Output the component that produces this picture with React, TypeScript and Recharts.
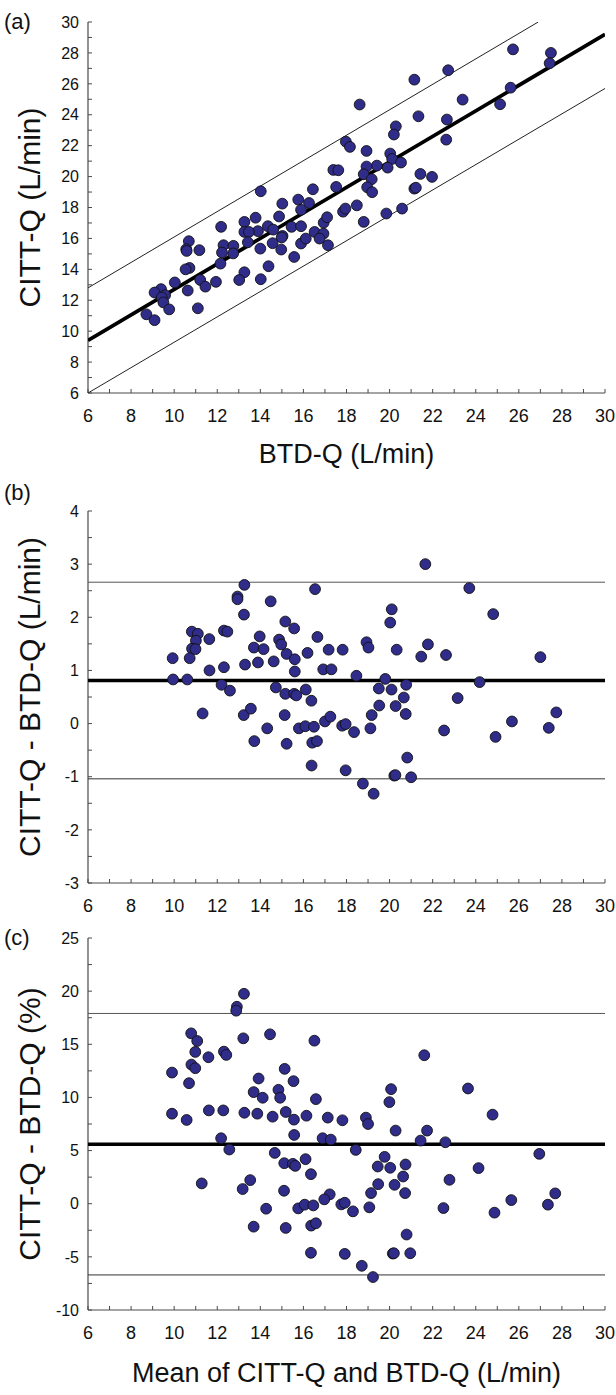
import { ScatterChart, Scatter, XAxis, YAxis } from "recharts";

const FONT = '"Liberation Sans", Arial, Helvetica, sans-serif';
const AXIS = "#4a4a4a";
const DOT_FILL = "#302c8a";

// shared x axis, L/min
const X_TICKS = [6, 7, 8, 9, 10, 11, 12, 13, 14, 15, 16, 17, 18, 19, 20, 21, 22, 23, 24, 25, 26, 27, 28, 29, 30];
const X_LABELS = [6, 8, 10, 12, 14, 16, 18, 20, 22, 24, 26, 28, 30];
const TOP_TICKS = [7, 9, 11, 13, 15, 17, 19, 21, 23, 25, 27, 29];

// (a) CITT-Q vs BTD-Q
const A_Y_TICKS = [6, 7, 8, 9, 10, 11, 12, 13, 14, 15, 16, 17, 18, 19, 20, 21, 22, 23, 24, 25, 26, 27, 28, 29, 30];
const A_Y_LABELS = [6, 8, 10, 12, 14, 16, 18, 20, 22, 24, 26, 28, 30];
const A_BTD = [
  25.73, 27.49, 27.43, 22.72, 21.15, 25.62, 23.39, 25.13, 18.61, 21.34, 22.66, 20.29, 20.2, 17.97, 18.16, 18.93, 22.63,
  20.03, 20.12, 20.53, 19.41, 18.93, 19.91, 17.39, 17.62, 18.8, 21.43, 21.97, 19.17, 17.52, 18.96, 16.44, 19.19, 21.15,
  21.22, 14.02, 15.76, 15.02, 16.26, 13.78, 15.89, 14.87, 14.35, 14.6, 13.89, 13.26, 13.26, 13.47, 12.18, 15.45, 15.89,
  16.52, 16.93, 16.94, 17.1, 17.84, 17.95, 18.48, 18.8, 19.85, 20.58, 10.68, 10.56, 10.58, 11.17, 12.29, 12.22, 12.75,
  12.74, 13.42, 14.0, 14.57, 14.97, 15.03, 14.99, 15.89, 16.11, 16.75, 17.14, 15.57, 14.38, 13.26, 13.02, 12.15, 11.94,
  10.71, 10.53, 11.21, 11.45, 10.63, 10.03, 9.39, 9.09, 9.58, 9.42, 9.5, 9.77, 11.1, 8.71, 9.09, 14.02,
];
const A_CITT = [
  28.23, 28.0, 27.33, 26.88, 26.27, 25.75, 24.98, 24.68, 24.66, 23.9, 23.69, 23.25, 22.72, 22.26, 21.92, 21.66, 22.39,
  21.49, 21.14, 20.91, 20.71, 20.65, 20.58, 20.43, 20.41, 20.15, 20.17, 19.98, 19.83, 19.33, 19.31, 19.18, 18.99, 19.22,
  19.28, 19.05, 18.51, 18.25, 18.29, 17.34, 17.85, 17.42, 16.79, 16.57, 16.47, 17.07, 16.42, 16.42, 16.75, 16.75, 16.79,
  16.42, 16.31, 17.02, 17.37, 17.73, 17.93, 18.14, 17.07, 17.61, 17.93, 15.82, 15.3, 15.19, 15.24, 15.56, 15.09, 15.52,
  15.03, 15.75, 15.34, 15.69, 15.28, 16.16, 16.06, 15.67, 15.99, 15.99, 15.56, 14.8, 14.2, 13.81, 13.31, 14.37, 13.19,
  14.09, 14.0, 13.31, 12.88, 12.63, 13.15, 12.72, 12.5, 12.33, 12.18, 11.86, 11.41, 11.48, 11.09, 10.71, 13.36,
];
// regression line and its prediction band (x, y end points)
const A_FIT_X = [6, 30];
const A_FIT_Y = [9.4, 29.2];
const A_UPPER_X = [6, 26.9];
const A_UPPER_Y = [12.8, 30];
const A_LOWER_X = [6, 30];
const A_LOWER_Y = [6.0, 25.7];

// (b) difference in L/min
const B_Y_TICKS = [-3, -2.5, -2, -1.5, -1, -0.5, 0, 0.5, 1, 1.5, 2, 2.5, 3, 3.5, 4];
const B_Y_LABELS = [-3, -2, -1, 0, 1, 2, 3, 4];
const B_MEAN = [
  21.66, 13.26, 16.54, 23.7, 12.94, 12.94, 14.48, 20.1, 13.24, 24.81, 20.03, 15.16, 15.57, 12.31, 12.47, 10.82, 11.1,
  11.01, 11.63, 13.97, 14.87, 14.97, 16.65, 18.93, 19.02, 21.78, 10.83, 10.99, 13.7, 14.15, 15.22, 16.19, 17.17, 17.82,
  20.33, 21.47, 22.62, 27.0, 9.93, 10.72, 15.6, 14.62, 13.89, 13.29, 12.31, 11.64, 15.6, 16.92, 17.3, 18.46, 19.8, 24.18,
  9.95, 10.61, 12.2, 12.59, 14.72, 16.11, 19.5, 20.09, 20.77, 15.16, 15.57, 15.67, 16.37, 20.66, 23.16, 19.52, 20.28,
  11.32, 13.23, 13.56, 15.13, 19.17, 20.75, 27.74, 17.0, 17.25, 25.68, 14.32, 15.79, 16.09, 16.49, 17.8, 17.96, 18.35,
  19.11, 22.53, 27.39, 13.72, 15.22, 16.41, 16.63, 24.92, 16.38, 17.96, 20.82, 20.22, 20.27, 21.0, 18.76, 19.26,
];
const B_DIFF = [
  3.0, 2.61, 2.53, 2.55, 2.39, 2.34, 2.3, 2.15, 2.05, 2.06, 1.9, 1.92, 1.79, 1.75, 1.73, 1.73, 1.69, 1.56, 1.59, 1.64,
  1.58, 1.49, 1.63, 1.53, 1.43, 1.49, 1.41, 1.4, 1.43, 1.4, 1.31, 1.33, 1.39, 1.39, 1.39, 1.26, 1.29, 1.25, 1.23, 1.23,
  1.21, 1.17, 1.15, 1.11, 1.06, 1.0, 0.98, 1.02, 1.02, 0.9, 0.84, 0.78, 0.83, 0.83, 0.73, 0.62, 0.68, 0.64, 0.66, 0.64,
  0.73, 0.56, 0.56, 0.53, 0.43, 0.49, 0.48, 0.34, 0.33, 0.19, 0.16, 0.28, 0.16, 0.16, 0.18, 0.21, 0.04, 0.13, 0.04,
  -0.09, -0.09, -0.05, -0.06, -0.04, -0.01, -0.16, -0.09, -0.13, -0.08, -0.33, -0.38, -0.36, -0.33, -0.25, -0.79, -0.88,
  -0.64, -0.98, -0.97, -1.01, -1.13, -1.32,
];
const B_BIAS = 0.81;
const B_LIMITS = [2.66, -1.04];

// (c) difference in %
const C_Y_TICKS = [-10, -7.5, -5, -2.5, 0, 2.5, 5, 7.5, 10, 12.5, 15, 17.5, 20, 22.5, 25];
const C_Y_LABELS = [-10, -5, 0, 5, 10, 15, 20, 25];
const C_MEAN = [
  13.24, 12.91, 12.88, 10.79, 14.45, 11.07, 13.21, 16.51, 10.98, 12.31, 12.42, 11.59, 21.61, 9.9, 10.8, 10.98, 15.13,
  10.69, 13.92, 15.54, 13.69, 14.84, 20.07, 23.64, 14.11, 14.92, 16.58, 19.99, 9.9, 10.58, 11.61, 12.28, 13.26, 13.86,
  14.57, 15.18, 15.56, 16.14, 17.13, 17.81, 18.9, 19.0, 24.78, 15.57, 16.89, 17.27, 12.18, 20.28, 21.74, 21.44, 22.59,
  12.56, 18.43, 14.67, 26.95, 16.1, 19.77, 15.11, 15.51, 15.62, 19.45, 20.03, 20.74, 24.13, 16.35, 20.63, 11.28, 13.53,
  13.18, 22.78, 19.47, 20.23, 15.1, 17.22, 16.97, 19.14, 20.72, 27.69, 14.27, 15.76, 16.06, 16.46, 17.76, 17.92, 18.3,
  19.06, 22.5, 25.65, 27.35, 24.87, 13.69, 15.18, 16.36, 16.58, 20.79, 16.35, 17.92, 20.15, 20.2, 20.96, 18.71, 19.23,
];
const C_PCT = [
  19.75, 18.53, 18.16, 16.03, 15.94, 15.31, 15.56, 15.34, 14.28, 14.31, 14.0, 13.78, 13.97, 12.34, 13.09, 12.75, 12.69,
  11.34, 11.78, 11.53, 10.5, 10.72, 10.78, 10.84, 9.97, 9.97, 9.84, 9.56, 8.47, 7.88, 8.78, 8.78, 8.56, 8.47, 8.19, 8.63,
  7.91, 8.28, 8.1, 7.85, 8.1, 7.5, 8.38, 6.47, 6.16, 6.03, 6.16, 6.88, 6.88, 5.94, 5.78, 5.1, 5.06, 4.78, 4.69, 4.19,
  4.41, 3.81, 3.75, 3.56, 3.5, 3.38, 3.69, 3.35, 2.78, 2.56, 1.91, 2.22, 1.38, 2.25, 1.84, 1.78, 1.22, 0.88, 0.41, 1.0,
  1.0, 0.97, -0.47, -0.44, -0.09, -0.16, -0.06, 0.09, -0.72, -0.34, -0.41, 0.34, -0.09, -0.84, -2.16, -2.28, -2.06,
  -1.84, -2.9, -4.62, -4.72, -4.69, -4.66, -4.66, -5.84, -6.9,
];
const C_BIAS = 5.6;
const C_LIMITS = [17.9, -6.7];

const toPoints = (xs: number[], ys: number[]) => xs.map((x, i) => ({ x, y: ys[i] }));
const hLine = (y: number) => [{ x: 6, y }, { x: 30, y }];

const Dot = (p: any) => <circle cx={p.cx} cy={p.cy} r={5.4} fill={DOT_FILL} stroke="#111" strokeWidth={0.9} />;
const NoDot = () => <g />;
const BlankTick = () => null;

function XTick({ x, y, payload, labels }: any) {
  if (!labels.includes(payload.value)) return null;
  return (
    <text x={x} y={y} dy="0.71em" textAnchor="middle" fontSize={18} fill="#111" fontFamily={FONT}>
      {payload.value}
    </text>
  );
}

function YTick({ x, y, payload, labels }: any) {
  if (!labels.includes(payload.value)) return null;
  return (
    <text x={x} y={y} dy="0.355em" textAnchor="end" fontSize={16} fill="#111" fontFamily={FONT}>
      {payload.value}
    </text>
  );
}

function XTitle({ viewBox, text, base }: any) {
  return (
    <text x={viewBox.x + viewBox.width / 2} y={viewBox.y + base} textAnchor="middle" fontSize={27} fill="#111" fontFamily={FONT}>
      {text}
    </text>
  );
}

function YTitle({ viewBox, text, tag, tagY }: any) {
  const cy = viewBox.y + viewBox.height / 2;
  const bx = 40;
  return (
    <g>
      <text x={bx} y={cy} transform={`rotate(-90 ${bx} ${cy})`} textAnchor="middle" fontSize={30} fill="#111" fontFamily={FONT}>
        {text}
      </text>
      <text x={4} y={tagY} fontSize={22} fill="#111" fontFamily={FONT}>
        {tag}
      </text>
    </g>
  );
}

function Panel({ top, height, marginTop, axisHeight, yDomain, yTicks, yLabels, title, tag, tagY, xTitle, xTitleBase, children }: any) {
  return (
    <div style={{ position: "absolute", left: 0, top }}>
      <ScatterChart width={616} height={height} margin={{ top: marginTop, right: 11, bottom: 0, left: 0 }}>
        <XAxis
          type="number"
          dataKey="x"
          domain={[6, 30]}
          allowDataOverflow
          ticks={X_TICKS}
          interval={0}
          tickSize={-4}
          tickMargin={20}
          height={axisHeight}
          axisLine={{ stroke: AXIS, strokeWidth: 1.2 }}
          tickLine={{ stroke: AXIS }}
          tick={<XTick labels={X_LABELS} />}
          label={xTitle ? <XTitle text={xTitle} base={xTitleBase} /> : undefined}
        />
        <XAxis
          xAxisId="top"
          orientation="top"
          type="number"
          domain={[6, 30]}
          ticks={TOP_TICKS}
          interval={0}
          tickSize={-4}
          height={0}
          axisLine={{ stroke: AXIS, strokeWidth: 1.2 }}
          tickLine={{ stroke: AXIS }}
          tick={<BlankTick />}
        />
        <YAxis
          type="number"
          dataKey="y"
          domain={yDomain}
          allowDataOverflow
          ticks={yTicks}
          interval={0}
          tickSize={-4}
          tickMargin={13}
          width={88}
          axisLine={{ stroke: AXIS, strokeWidth: 1.2 }}
          tickLine={{ stroke: AXIS }}
          tick={<YTick labels={yLabels} />}
          label={<YTitle text={title} tag={tag} tagY={tagY} />}
        />
        <YAxis
          yAxisId="right"
          orientation="right"
          type="number"
          domain={[0, 1]}
          width={0}
          tick={false}
          tickLine={false}
          axisLine={{ stroke: AXIS, strokeWidth: 1.2 }}
        />
        {children}
      </ScatterChart>
    </div>
  );
}

export default function App() {
  const aPoints = toPoints(A_BTD, A_CITT);
  const bPoints = toPoints(B_MEAN, B_DIFF);
  const cPoints = toPoints(C_MEAN, C_PCT);

  return (
    <div style={{ position: "absolute", left: 0, top: 0, width: 616, height: 1395, background: "#fff" }}>
      <Panel
        top={0}
        height={470}
        marginTop={22}
        axisHeight={77}
        yDomain={[6, 30]}
        yTicks={A_Y_TICKS}
        yLabels={A_Y_LABELS}
        title="CITT-Q (L/min)"
        tag="(a)"
        tagY={29}
        xTitle="BTD-Q (L/min)"
        xTitleBase={70}
      >
        <Scatter data={toPoints(A_UPPER_X, A_UPPER_Y)} line={{ stroke: "#222", strokeWidth: 1 }} shape={NoDot} isAnimationActive={false} />
        <Scatter data={toPoints(A_LOWER_X, A_LOWER_Y)} line={{ stroke: "#222", strokeWidth: 1 }} shape={NoDot} isAnimationActive={false} />
        <Scatter data={toPoints(A_FIT_X, A_FIT_Y)} line={{ stroke: "#000", strokeWidth: 3.8 }} shape={NoDot} isAnimationActive={false} />
        <Scatter data={aPoints} shape={Dot} isAnimationActive={false} />
      </Panel>

      <Panel
        top={470}
        height={450}
        marginTop={41}
        axisHeight={37}
        yDomain={[-3, 4]}
        yTicks={B_Y_TICKS}
        yLabels={B_Y_LABELS}
        title="CITT-Q - BTD-Q (L/min)"
        tag="(b)"
        tagY={30}
      >
        <Scatter data={hLine(B_LIMITS[0])} line={{ stroke: "#555", strokeWidth: 1 }} shape={NoDot} isAnimationActive={false} />
        <Scatter data={hLine(B_LIMITS[1])} line={{ stroke: "#333", strokeWidth: 1 }} shape={NoDot} isAnimationActive={false} />
        <Scatter data={hLine(B_BIAS)} line={{ stroke: "#000", strokeWidth: 3.5 }} shape={NoDot} isAnimationActive={false} />
        <Scatter data={bPoints} shape={Dot} isAnimationActive={false} />
      </Panel>

      <Panel
        top={920}
        height={475}
        marginTop={18}
        axisHeight={85}
        yDomain={[-10, 25]}
        yTicks={C_Y_TICKS}
        yLabels={C_Y_LABELS}
        title="CITT-Q - BTD-Q (%)"
        tag="(c)"
        tagY={25}
        xTitle="Mean of CITT-Q and BTD-Q (L/min)"
        xTitleBase={72}
      >
        <Scatter data={hLine(C_LIMITS[0])} line={{ stroke: "#555", strokeWidth: 1 }} shape={NoDot} isAnimationActive={false} />
        <Scatter data={hLine(C_LIMITS[1])} line={{ stroke: "#333", strokeWidth: 1 }} shape={NoDot} isAnimationActive={false} />
        <Scatter data={hLine(C_BIAS)} line={{ stroke: "#000", strokeWidth: 3.5 }} shape={NoDot} isAnimationActive={false} />
        <Scatter data={cPoints} shape={Dot} isAnimationActive={false} />
      </Panel>
    </div>
  );
}
